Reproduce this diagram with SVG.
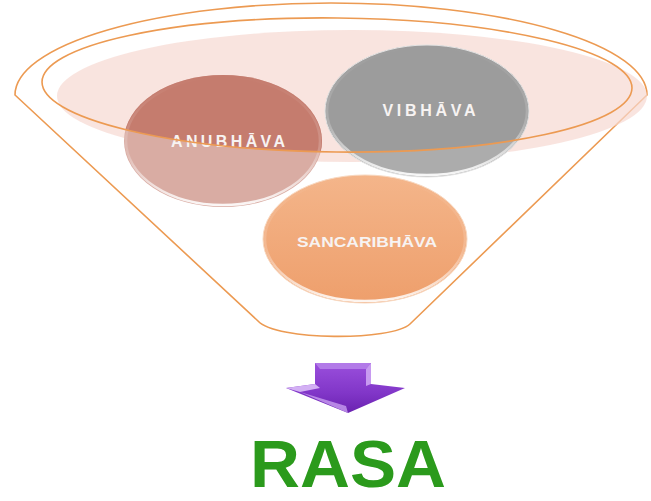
<svg xmlns="http://www.w3.org/2000/svg" width="651" height="501" viewBox="0 0 651 501">
  <style>
    .lbl { font-family: "Liberation Sans", Arial, sans-serif; font-weight: bold; fill: #f7f3f2; text-anchor: middle; }
    .rim { fill: none; stroke-width: 2.5; }
    .funnel-line { fill: none; stroke: #ec9a52; stroke-width: 1.6; }
  </style>
  <defs>
    <clipPath id="topClip">
      <ellipse cx="337" cy="85" rx="295" ry="67" transform="rotate(0.6 337 85)"/>
    </clipPath>
    <linearGradient id="rimGrad" x1="0" y1="0" x2="0" y2="1">
      <stop offset="0" stop-color="#ffffff" stop-opacity="0"/>
      <stop offset="0.6" stop-color="#ffffff" stop-opacity="0.2"/>
      <stop offset="1" stop-color="#ffffff" stop-opacity="0.9"/>
    </linearGradient>
    <linearGradient id="sanGrad" x1="0" y1="0" x2="0" y2="1">
      <stop offset="0" stop-color="#f4b58a"/>
      <stop offset="1" stop-color="#ee9f6c"/>
    </linearGradient>
    <linearGradient id="arrowGrad" x1="0" y1="0" x2="0" y2="1">
      <stop offset="0" stop-color="#9a4fdc"/>
      <stop offset="0.6" stop-color="#8136c8"/>
      <stop offset="1" stop-color="#6a22b0"/>
    </linearGradient>
  </defs>

  <g id="funnel">
    <path class="funnel-line" d="M 15,95 A 316 92 0 0 1 647,95 L 410,324 C 392,341 276,341 258,321 Z" stroke="#eea468"/>
    <ellipse cx="352" cy="96" rx="295" ry="66" fill="#f6d9d2" fill-opacity="0.7"/>
  </g>

  <g id="anubhava">
    <ellipse cx="223" cy="141" rx="99" ry="66" fill="#d9aca3"/>
    <ellipse cx="223" cy="141" rx="99" ry="66" fill="#c57c6e" clip-path="url(#topClip)"/>
    <ellipse class="rim" cx="223" cy="141" rx="97" ry="64" stroke="url(#rimGrad)"/>
    <text class="lbl" x="228" y="147" font-size="16" textLength="114" lengthAdjust="spacing">ANUBHĀVA</text>
  </g>

  <g id="vibhava">
    <ellipse cx="427" cy="111" rx="102" ry="66" fill="#acacac"/>
    <ellipse cx="427" cy="111" rx="102" ry="66" fill="#9c9c9c" clip-path="url(#topClip)"/>
    <ellipse class="rim" cx="427" cy="111" rx="100" ry="64" stroke="url(#rimGrad)"/>
    <ellipse cx="427" cy="111" rx="102" ry="66" fill="none" stroke="#e4e4e4" stroke-width="1"/>
    <text class="lbl" x="429" y="116" font-size="16" textLength="93" lengthAdjust="spacing">VIBHĀVA</text>
  </g>

  <g id="sancaribhava">
    <ellipse cx="365" cy="239" rx="102" ry="64" fill="url(#sanGrad)"/>
    <ellipse class="rim" cx="365" cy="239" rx="100" ry="62" stroke="url(#rimGrad)"/>
    <ellipse cx="365" cy="239" rx="102" ry="64" fill="none" stroke="#f8d8c0" stroke-width="1"/>
    <text class="lbl" x="367" y="247" font-size="15.5" textLength="140" lengthAdjust="spacingAndGlyphs">SANCARIBHĀVA</text>
  </g>

  <g id="funnel-rim">
    <ellipse class="funnel-line" cx="337" cy="85" rx="295" ry="67" transform="rotate(0.6 337 85)" stroke="#e8893a" stroke-width="1.8"/>
  </g>

  <g id="connectors">
    <polygon points="315,363 371,363 371,384 405,388 348,413 286,388 315,384" fill="url(#arrowGrad)"/>
    <polygon points="315,363 371,363 366,369 320,369" fill="#b27ae8"/>
    <polygon points="366,369 371,363 371,384 366,386" fill="#c79af0"/>
    <polygon points="286,388 315,384 320,388 300,392" fill="#d3b0f4"/>
    <polygon points="300,392 348,413 346,406" fill="#c89ef0" opacity="0.8"/>
  </g>

  <g id="rasa">
    <text x="348" y="487" font-family="Liberation Sans, Arial, sans-serif" font-weight="bold" font-size="66" fill="#2b9a1c" text-anchor="middle" textLength="196" lengthAdjust="spacingAndGlyphs">RASA</text>
  </g>
</svg>
